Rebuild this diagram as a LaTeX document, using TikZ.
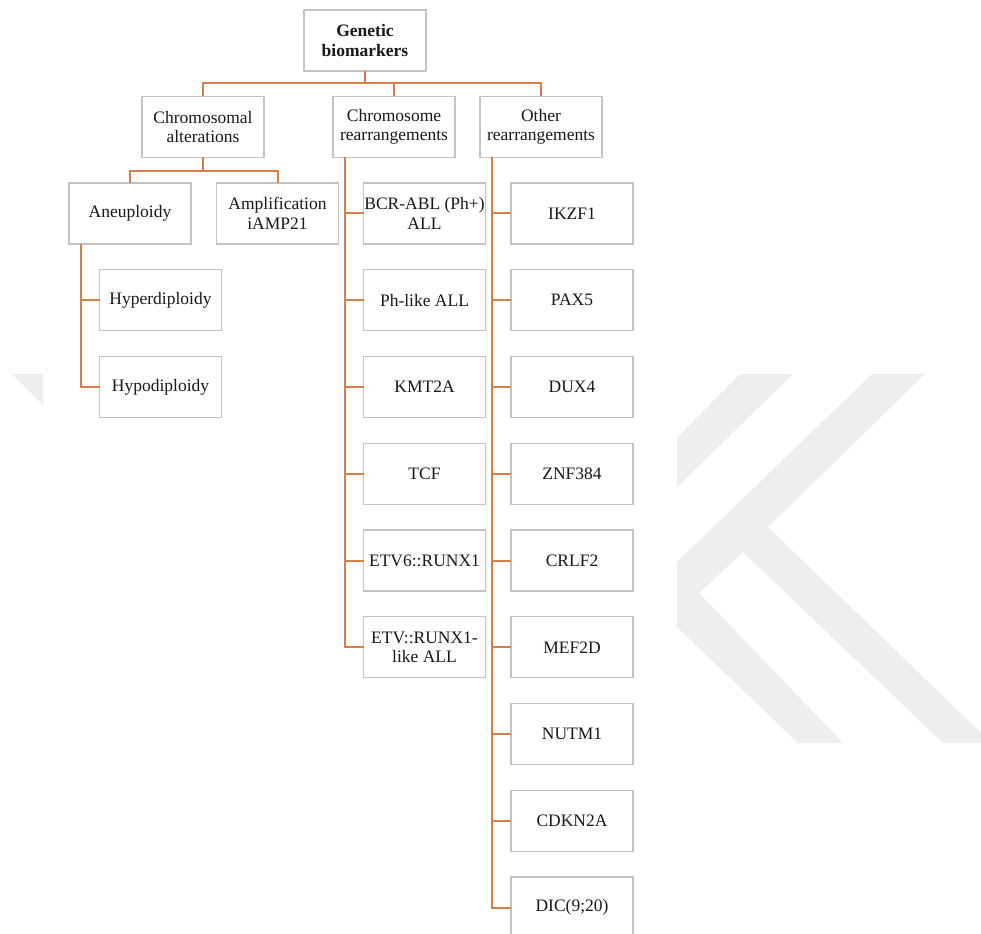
\documentclass[tikz,border=0pt]{standalone}
\usepackage{fontspec}
\setmainfont{Liberation Serif}
\definecolor{wm}{RGB}{238,238,238}
\definecolor{conncol}{RGB}{214,128,72}
\definecolor{boxcol}{RGB}{195,195,195}
\begin{document}
\begin{tikzpicture}[x=1pt,y=-1pt,
  box/.style={draw=boxcol,line width=1.2pt,fill=white,minimum width=122pt,minimum height=61pt,
    inner sep=0pt,outer sep=0pt,align=center,font=\fontsize{17.5}{19.5}\selectfont,text=black!90},
  conn/.style={draw=conncol,line width=2pt}]
\useasboundingbox (0,0) rectangle (981,933);
% watermark
\fill[wm] (12,374) -- (43,374) -- (43,405) -- cycle;
\fill[wm] (740,374) -- (793,374) -- (677,487) -- (677,438) -- cycle;
\fill[wm] (872,374) -- (925,374) -- (768,527) -- (981,733) -- (981,743) -- (943,743)
  -- (743,552) -- (699,593) -- (843,743) -- (798,743) -- (677,627) -- (677,562) -- cycle;
% nodes
\node[box,font=\fontsize{17.5}{19.5}\selectfont\bfseries] (root) at (365,40.5) {Genetic\\biomarkers};
\node[box] (ca) at (203,127) {Chromosomal\\alterations};
\node[box] (cr) at (394,127) {Chromosome\\rearrangements};
\node[box] (ot) at (541,127) {Other\\rearrangements};
\node[box] (an) at (130,213.5) {Aneuploidy};
\node[box] (amp) at (277.5,213.5) {Amplification\\iAMP21};
\node[box] (hyper) at (160.5,300.25) {Hyperdiploidy};
\node[box] (hypo) at (160.5,387) {Hypodiploidy};
\foreach \t [count=\i from 0] in {{BCR-ABL (Ph+)\\ALL},{Ph-like ALL},{KMT2A},{TCF},{ETV6::RUNX1},{ETV::RUNX1-\\like ALL}}{
  \node[box] (c\i) at (424.5,213.5+86.75*\i) {\t};
}
\foreach \t [count=\i from 0] in {IKZF1,PAX5,DUX4,ZNF384,CRLF2,MEF2D,NUTM1,CDKN2A,{DIC(9;20)}}{
  \node[box] (o\i) at (572,213.5+86.75*\i) {\t};
}
% connectors
\draw[conn] (root.south) -- ++(0,12) coordinate (bus);
\draw[conn] (ca.north) |- (bus) -| (ot.north);
\draw[conn] (bus) -| (cr.north);
\draw[conn] (ca.south) -- ++(0,14) coordinate (busb);
\draw[conn] (an.north) |- (busb) -| (amp.north);
\coordinate (anstem) at ([xshift=12pt]an.south west);
\draw[conn] (anstem) |- (hyper.west);
\draw[conn] (anstem) |- (hypo.west);
\coordinate (crstem) at ([xshift=12pt]cr.south west);
\draw[conn] (crstem) |- (c5.west);
\foreach \i in {0,...,4}{\draw[conn] (c\i.west) -- (crstem |- c\i.west);}
\coordinate (otstem) at ([xshift=12pt]ot.south west);
\draw[conn] (otstem) |- (o8.west);
\foreach \i in {0,...,7}{\draw[conn] (o\i.west) -- (otstem |- o\i.west);}
\end{tikzpicture}
\end{document}
